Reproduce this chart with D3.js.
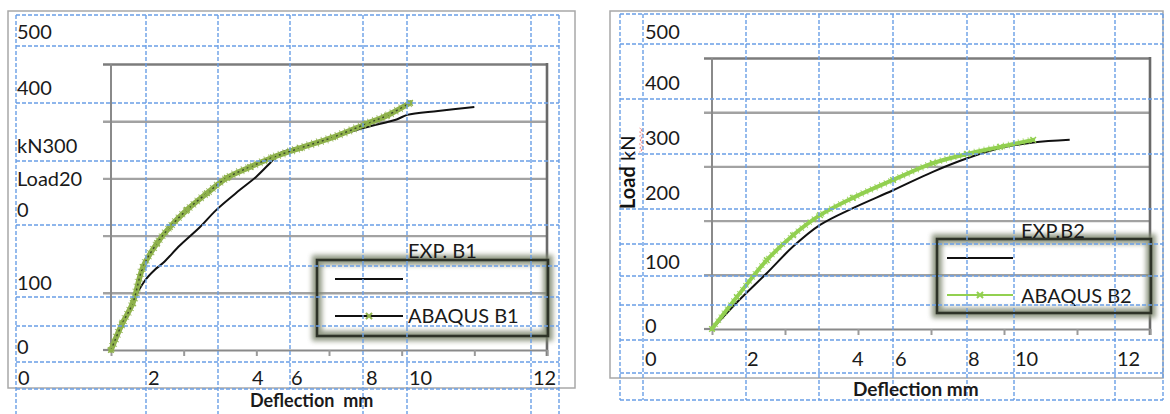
<!DOCTYPE html>
<html><head><meta charset="utf-8">
<script src="https://cdn.jsdelivr.net/npm/d3@7"></script>
<style>
html,body{margin:0;padding:0;background:#fff;}
svg{display:block;font-family:Lato,"Open Sans",sans-serif;}
</style></head>
<body>
<svg id="chart" width="1170" height="414"></svg>
<script>
// ---------- data ----------
const xTickValues = [0, 2, 4, 6, 8, 10, 12];
const yTickValues = [0, 100, 200, 300, 400, 500];
const xTickLabels = ["0", "2", "4", "6", "8", "10", "12"];
const b1YTickLabels = ["500", "400", "kN300", "Load20", "0", "100", "0"];
const b2YTickLabels = ["500", "400", "300", "200", "100", "0"];

const expB1Deflection = [0, 0.3, 0.58, 0.94, 1.2, 1.43, 1.9, 2.45, 2.9, 3.55, 4.0, 4.38, 4.65, 5.67, 6.94, 7.86, 8.15, 9.0, 10.0];
const expB1Load       = [0, 40, 82, 122, 140, 152, 183, 215, 245, 280, 303, 327, 344, 362, 388, 403, 411, 418, 425];
const abqB1Deflection = [0, 0.3, 0.6, 0.88, 1.27, 1.62, 2.09, 2.64, 3.19, 3.83, 4.46, 5.2, 6.11, 7.05, 7.6, 8.23];
const abqB1Load       = [0, 45, 82, 145, 187, 215, 245, 274, 301, 320, 337, 353, 372, 396, 410, 432];

const expB2Deflection = [0, 0.68, 1.5, 2.22, 2.96, 3.86, 4.96, 6.05, 6.99, 7.89, 8.8, 9.8];
const expB2Load       = [0, 49, 103, 152, 192, 223, 256, 290, 315, 334, 344, 349];
const abqB2Deflection = [0, 0.68, 1.5, 2.22, 2.96, 3.86, 4.96, 6.05, 6.99, 7.89, 8.8];
const abqB2Load       = [0, 59, 127, 173, 210, 242, 275, 306, 323, 336, 349];

const b1SeriesNames = ["EXP. B1", "ABAQUS B1"];
const b2SeriesNames = ["EXP.B2", "ABAQUS B2"];
const b1XTitle = "Deflection  mm";
const b2XTitle = "Deflection mm";
const b2YTitleBold = "Load";
const b2YTitleUnit = " kN";

// ---------- drawing ----------
const FS = 20;
const svg = d3.select("#chart");
const defs = svg.append("defs");
defs.append("filter").attr("id", "glow").attr("x", "-20%").attr("y", "-30%").attr("width", "140%").attr("height", "160%")
  .append("feGaussianBlur").attr("stdDeviation", 2.8);

const zip = (xs, ys) => xs.map((x, i) => [x, ys[i]]);

function drawPanel(p) {
  const g = svg.append("g");
  // outer chart border
  g.append("rect").attr("x", p.border[0]).attr("y", p.border[1])
    .attr("width", p.border[2] - p.border[0]).attr("height", p.border[3] - p.border[1])
    .attr("fill", "none").attr("stroke", "#a8a8a8").attr("stroke-width", 1.5);

  const x = d3.scaleLinear().domain([0, 12]).range([p.plot.left, p.plot.right]);
  const y = d3.scaleLinear().domain([0, 500]).range([p.plot.bottom, p.plot.top]);

  // horizontal gridlines (with left tick stubs)
  const grid = d3.axisLeft(y).tickValues(yTickValues.filter(v => v > 0))
    .tickSizeInner(-(p.plot.right - p.plot.left + 8)).tickSizeOuter(0).tickFormat("");
  const gg = g.append("g").attr("transform", `translate(${p.plot.left - 8},0)`).call(grid);
  gg.select(".domain").remove();
  gg.selectAll(".tick line").attr("stroke", "#a2a2a2").attr("stroke-width", 2.4);
  gg.selectAll(".tick").filter(d => d === 500).select("line").attr("stroke", "#7c7c7c");

  // left axis line
  g.append("line").attr("x1", x(0)).attr("x2", x(0)).attr("y1", y(500)).attr("y2", y(0))
    .attr("stroke", "#8a8a8a").attr("stroke-width", 2);
  // right plot edge
  g.append("line").attr("x1", x(12)).attr("x2", x(12)).attr("y1", y(500) - 1).attr("y2", y(0) + 6)
    .attr("stroke", "#6a6a6a").attr("stroke-width", 2.6);

  // bottom axis + ticks
  const xa = d3.axisBottom(x).tickValues(xTickValues).tickSizeInner(6).tickSizeOuter(0).tickFormat("");
  const xg = g.append("g").attr("transform", `translate(0,${y(0)})`).call(xa);
  xg.select(".domain").attr("stroke", "#8a8a8a").attr("stroke-width", 2.2);
  xg.selectAll(".tick line").attr("stroke", "#9a9a9a").attr("stroke-width", 2);
  g.append("line").attr("x1", x(0) - 8).attr("x2", x(0)).attr("y1", y(0)).attr("y2", y(0))
    .attr("stroke", "#8a8a8a").attr("stroke-width", 2.2);

  const line = d3.line().x(d => x(d[0])).y(d => y(d[1])).curve(d3.curveCatmullRom.alpha(0.5));

  // experimental curve
  g.append("path").datum(zip(p.expX, p.expY)).attr("d", line)
    .attr("fill", "none").attr("stroke", "#111").attr("stroke-width", 2);

  // ABAQUS curve
  const abq = zip(p.abqX, p.abqY);
  g.append("path").datum(abq).attr("d", line)
    .attr("fill", "none").attr("stroke", p.green).attr("stroke-width", p.greenWidth)
    .attr("stroke-linejoin", "round").attr("stroke-linecap", "round");
  g.append("path").datum(abq).attr("d", line)
    .attr("fill", "none").attr("stroke", p.green).attr("stroke-width", p.greenWidth + 3)
    .attr("stroke-dasharray", "1,4").attr("opacity", 0.8);
  if (p.darkCore) {
    g.append("path").datum(abq).attr("d", line)
      .attr("fill", "none").attr("stroke", "#3a4a2a").attr("stroke-width", 1.4)
      .attr("stroke-dasharray", "2,3");
  }
  const sym = d3.symbol().type(d3.symbolTimes).size(22);
  g.selectAll(".mk").data(abq).join("path")
    .attr("transform", d => `translate(${x(d[0])},${y(d[1])})`)
    .attr("d", sym).attr("fill", "none").attr("stroke", p.green).attr("stroke-width", 1.5);

  // legend
  const L = p.legend;
  g.append("rect").attr("x", L.x0).attr("y", L.y0).attr("width", L.x1 - L.x0).attr("height", L.y1 - L.y0)
    .attr("fill", "none").attr("stroke", "#7f8870").attr("stroke-width", 10).attr("filter", "url(#glow)").attr("opacity", 0.85);
  g.append("rect").attr("x", L.x0).attr("y", L.y0).attr("width", L.x1 - L.x0).attr("height", L.y1 - L.y0)
    .attr("fill", "none").attr("stroke", "#2e3328").attr("stroke-width", 2.6);
  g.append("line").attr("x1", L.lx0).attr("x2", L.lx1).attr("y1", L.ly1).attr("y2", L.ly1)
    .attr("stroke", "#111").attr("stroke-width", 2);
  g.append("line").attr("x1", L.lx0).attr("x2", L.lx1).attr("y1", L.ly2).attr("y2", L.ly2)
    .attr("stroke", p.legendLine2).attr("stroke-width", 2);
  g.append("path").attr("transform", `translate(${(L.lx0 + L.lx1) / 2},${L.ly2})`)
    .attr("d", d3.symbol().type(d3.symbolTimes).size(26)).attr("fill", "none")
    .attr("stroke", p.green).attr("stroke-width", 2);
  g.append("text").attr("x", L.tx).attr("y", L.ty1).text(p.names[0])
    .attr("font-size", FS).attr("fill", "#1a1a1a");
  g.append("text").attr("x", L.tx).attr("y", L.ty2).text(p.names[1])
    .attr("font-size", FS).attr("fill", "#1a1a1a");

  // blue dashed table grid
  const tg = g.append("g").attr("stroke", "#6a9fe6").attr("stroke-width", 1.4)
    .attr("stroke-dasharray", "4,2").attr("fill", "none");
  p.tableV.forEach(v => tg.append("line").attr("x1", v[0]).attr("x2", v[0]).attr("y1", v[1]).attr("y2", v[2]));
  p.tableH.forEach(h => tg.append("line").attr("y1", h[0]).attr("y2", h[0]).attr("x1", h[1]).attr("x2", h[2]));

  // tick labels placed in table cells
  p.yLabels.forEach((t, i) => g.append("text").attr("x", p.yLabelX).attr("y", p.yLabelY[i])
    .text(t).attr("font-size", FS).attr("fill", "#1a1a1a"));
  xTickLabels.forEach((t, i) => g.append("text").attr("x", p.xLabelX[i]).attr("y", p.xLabelBase)
    .text(t).attr("font-size", FS).attr("fill", "#1a1a1a"));

  g.append("text").attr("x", p.xTitle[0]).attr("y", p.xTitle[1]).text(p.xTitleText)
    .attr("font-size", p.xTitle[2]).attr("font-weight", "bold").attr("fill", "#1a1a1a")
    .attr("xml:space", "preserve").style("white-space", "pre");
  return g;
}

drawPanel({
  border: [8, 11, 575, 388],
  plot: { left: 111, right: 547, top: 64, bottom: 350 },
  expX: expB1Deflection, expY: expB1Load, abqX: abqB1Deflection, abqY: abqB1Load,
  green: "#8fb24c", greenWidth: 5.5, darkCore: true, legendLine2: "#111",
  names: b1SeriesNames,
  legend: { x0: 317, x1: 548, y0: 260, y1: 336, lx0: 335, lx1: 403, ly1: 279, ly2: 316, tx: 408, ty1: 258, ty2: 323 },
  tableV: [[16, 15, 414], [146, 15, 414], [218, 15, 414], [290, 15, 389], [363, 15, 414], [407, 15, 414], [531, 15, 414], [559, 15, 414]],
  tableH: [[15, 16, 559], [46, 16, 559], [103, 16, 559], [161, 16, 559], [225, 16, 559], [266, 146, 559], [297, 16, 559], [326, 16, 559], [362, 16, 559], [389, 16, 559]],
  yLabels: b1YTickLabels, yLabelX: 17, yLabelY: [39, 95, 153, 186, 217, 290, 354],
  xLabelX: [18, 148, 252, 291, 366, 409, 533], xLabelBase: 385,
  xTitle: [250, 407, 18], xTitleText: b1XTitle
});

const p2 = drawPanel({
  border: [610, 11, 1163, 378],
  plot: { left: 712, right: 1150, top: 58, bottom: 329 },
  expX: expB2Deflection, expY: expB2Load, abqX: abqB2Deflection, abqY: abqB2Load,
  green: "#92d050", greenWidth: 4, darkCore: false, legendLine2: "#92d050",
  names: b2SeriesNames,
  legend: { x0: 937, x1: 1151, y0: 239, y1: 313, lx0: 947, lx1: 1013, ly1: 258, ly2: 295, tx: 1021, ty1: 238, ty2: 303 },
  tableV: [[620, 14, 400], [643, 14, 400], [746, 14, 400], [819, 14, 400], [893, 14, 400], [967, 14, 400], [1014, 14, 400], [1115, 14, 400], [1163, 14, 400]],
  tableH: [[14, 620, 1163], [44, 620, 1163], [99, 620, 1163], [154, 620, 1163], [209, 620, 1163], [244, 620, 1163], [276, 620, 1163], [305, 620, 1163], [340, 620, 1163], [373, 620, 1163], [400, 620, 1163]],
  yLabels: b2YTickLabels, yLabelX: 645, yLabelY: [39, 90, 145, 200, 269, 333],
  xLabelX: [645, 747, 852, 895, 968, 1015, 1117], xLabelBase: 366,
  xTitle: [853, 396, 19], xTitleText: b2XTitle
});

// rotated y title on right panel
const yt = p2.append("text").attr("transform", "translate(635,209) rotate(-90)")
  .attr("font-size", FS).attr("fill", "#111");
yt.append("tspan").attr("font-weight", "bold").text(b2YTitleBold);
yt.append("tspan").text(b2YTitleUnit);
// spell-check squiggle under "kN"
p2.append("path").attr("d", d3.range(0, 13).map((i) => `${i === 0 ? "M" : "L"}${641 + (i % 2 ? 1.5 : -1.5)},${152 - i * 2}`).join(""))
  .attr("fill", "none").attr("stroke", "#e0403a").attr("stroke-width", 0.9).attr("stroke-dasharray", "1,1");
</script>
</body></html>
